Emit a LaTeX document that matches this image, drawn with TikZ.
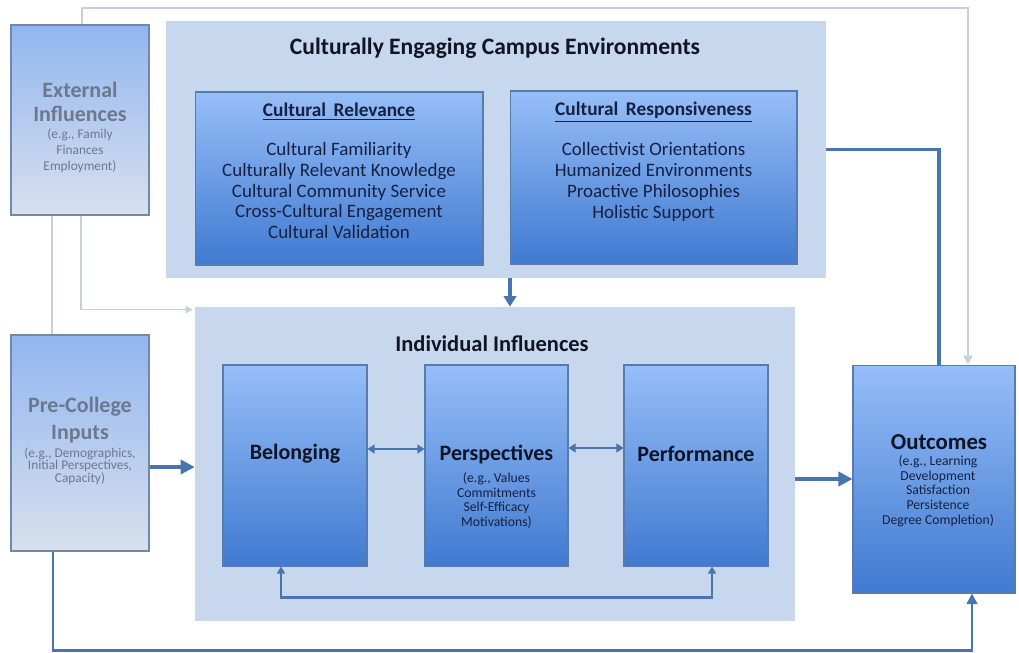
\documentclass[tikz,border=0pt]{standalone}
\usepackage{fontspec}
\setmainfont{Carlito}
\usetikzlibrary{arrows.meta,calc,shadows}

\definecolor{panelc}{RGB}{199,215,237}
\definecolor{boxtop}{RGB}{150,190,248}
\definecolor{boxbot}{RGB}{64,122,208}
\definecolor{boxline}{RGB}{88,122,172}
\definecolor{fadetop}{RGB}{146,182,240}
\definecolor{fadebot}{RGB}{216,224,237}
\definecolor{fadeline}{RGB}{112,136,172}
\definecolor{graytxt}{RGB}{108,120,142}
\definecolor{navy}{RGB}{22,32,66}
\definecolor{titlec}{RGB}{16,20,36}
\definecolor{arrowc}{RGB}{72,116,176}
\definecolor{faintc}{RGB}{196,208,226}

\begin{document}
\begin{tikzpicture}[x=0.02cm, y=-0.02cm,
  panel/.style={fill=panelc, inner sep=0pt},
  gbox/.style={draw=boxline, line width=0.6pt, top color=boxtop, bottom color=boxbot,
    inner sep=0pt, drop shadow={opacity=0.3, shadow xshift=0.8pt, shadow yshift=-0.8pt}},
  fbox/.style={draw=fadeline, line width=0.6pt, top color=fadetop, bottom color=fadebot,
    inner sep=0pt, drop shadow={opacity=0.25, shadow xshift=0.8pt, shadow yshift=-0.8pt}},
  hd/.style={font=\bfseries\fontsize{13}{15}\selectfont, text=titlec},
  big/.style={font=\bfseries\fontsize{12.5}{14}\selectfont, text=titlec},
  item/.style={align=center, text=navy, font=\fontsize{10.8}{11.8}\selectfont},
  note/.style={align=center, text=navy, font=\fontsize{7.8}{8.4}\selectfont},
  gray/.style={align=center, text=graytxt},
  flow/.style={draw=arrowc, line width=2.2pt, -{Triangle[length=8pt,width=8pt]}},
  link/.style={draw=arrowc, line width=1.5pt},
  faint/.style={draw=faintc, line width=0.9pt}
]
\useasboundingbox (0,0) rectangle (1019,653);

% outer inputs
\node[fbox, minimum width=2.76cm, minimum height=3.8cm] (ext) at (80,120) {};
\node[gray, font=\bfseries\fontsize{12.5}{14}\selectfont] (extT) at (80,102) {External\\Influences};
\node[gray, font=\fontsize{7.6}{9}\selectfont] (extN) at (80,151) {(e.g., Family\\Finances\\Employment)};
\node[fbox, minimum width=2.76cm, minimum height=4.32cm] (pre) at (80,443) {};
\node[gray, font=\bfseries\fontsize{12.5}{15}\selectfont] (preT) at (80,420) {Pre-College\\Inputs};
\node[gray, font=\fontsize{7.6}{7.2}\selectfont] (preN) at (80,466) {(e.g., Demographics,\\Initial Perspectives,\\Capacity)};

% campus environments
\node[panel, minimum width=13.2cm, minimum height=5.14cm] (campus) at (496,149.5) {};
\node[hd, font=\bfseries\fontsize{13.4}{15}\selectfont] (campusT) at (495,48) {Culturally Engaging Campus Environments};
\node[gbox, minimum width=5.76cm, minimum height=3.46cm] (rel) at (339,178.5) {};
\node[hd, text=navy, font=\bfseries\fontsize{11}{13}\selectfont] (relT) at (339,112) {\underline{Cultural\ \,Relevance}};
\node[item] (relL) at (339,190.5) {Cultural Familiarity\\Culturally Relevant Knowledge\\Cultural Community Service\\Cross-Cultural Engagement\\Cultural Validation};
\node[gbox, minimum width=5.74cm, minimum height=3.46cm] (resp) at (653.5,177.5) {};
\node[hd, text=navy, font=\bfseries\fontsize{11}{13}\selectfont] (respT) at (653.5,112) {\underline{Cultural\ \,Responsiveness}};
\node[item] (respL) at (653.5,182) {Collectivist Orientations\\Humanized Environments\\Proactive Philosophies\\Holistic Support};

% individual influences
\node[panel, minimum width=12cm, minimum height=6.28cm] (indiv) at (495,464) {};
\node[hd, font=\bfseries\fontsize{12.8}{15}\selectfont] (indivT) at (492,344) {Individual Influences};
\node[gbox, minimum width=2.88cm, minimum height=4.02cm] (bel) at (295,465.5) {};
\node[gbox, minimum width=2.86cm, minimum height=4.02cm] (persp) at (496.5,465.5) {};
\node[gbox, minimum width=2.88cm, minimum height=4.02cm] (perf) at (696,465.5) {};
\node[big] (belT) at (295,454) {Belonging};
\node[big] (perspT) at (496.5,455) {Perspectives};
\node[note] (perspN) at (496.5,500.5) {(e.g., Values\\Commitments\\Self-Efficacy\\Motivations)};
\node[big] (perfT) at (696,454) {Performance};

% outcomes
\node[gbox, minimum width=3.24cm, minimum height=4.56cm] (out) at (934,479) {};
\node[big, font=\bfseries\fontsize{13}{15}\selectfont] (outT) at (939,442) {Outcomes};
\node[note] (outN) at (938,491) {(e.g., Learning\\Development\\Satisfaction\\Persistence\\Degree Completion)};

% connectors
\coordinate (topR) at (968,8);
\coordinate (inY) at (0,467);
\coordinate (rowY) at (0,449);
\draw[faint, -{Triangle[length=5pt,width=5pt]}] ($(ext.north)+(2,0)$) |- (topR) -- (out.north -| topR);
\draw[faint, -{Triangle[length=4pt,width=4pt]}] ($(ext.south)+(1,0)$) |- ($(indiv.north west)+(-2,3)$);
\draw[faint] ($(ext.south)+(-28,0)$) -- ($(pre.north)+(-28,0)$);
\draw[flow] (pre.east |- inY) -- (indiv.west |- inY);
\draw[link, line width=2pt, -{Triangle[length=6pt,width=7pt]}] ($(campus.south)+(14,0)$) -- ($(indiv.north)+(15,0)$);
\draw[link, line width=2.2pt] (campus.east) -| ($(out.north)+(5,0)$);
\draw[link, {Triangle[length=4pt,width=5pt]}-{Triangle[length=4pt,width=5pt]}] (bel.east |- rowY) -- (persp.west |- rowY);
\draw[link, {Triangle[length=4pt,width=5pt]}-{Triangle[length=4pt,width=5pt]}] ($(persp.east |- rowY)+(0,-1)$) -- ($(perf.west |- rowY)+(0,-1)$);
\draw[link, {Triangle[length=4pt,width=4.5pt]}-{Triangle[length=4pt,width=4.5pt]}] ($(bel.south)+(-14,0)$) -- ++(0,31) -| ($(perf.south)+(16,0)$);
\draw[flow] (indiv.east |- out.west) -- (out.west);
\draw[link, -{Triangle[length=6pt,width=6pt]}] ($(pre.south)+(-27,0)$) -- ++(0,99) -| ($(out.south)+(38,0)$);
\end{tikzpicture}
\end{document}
